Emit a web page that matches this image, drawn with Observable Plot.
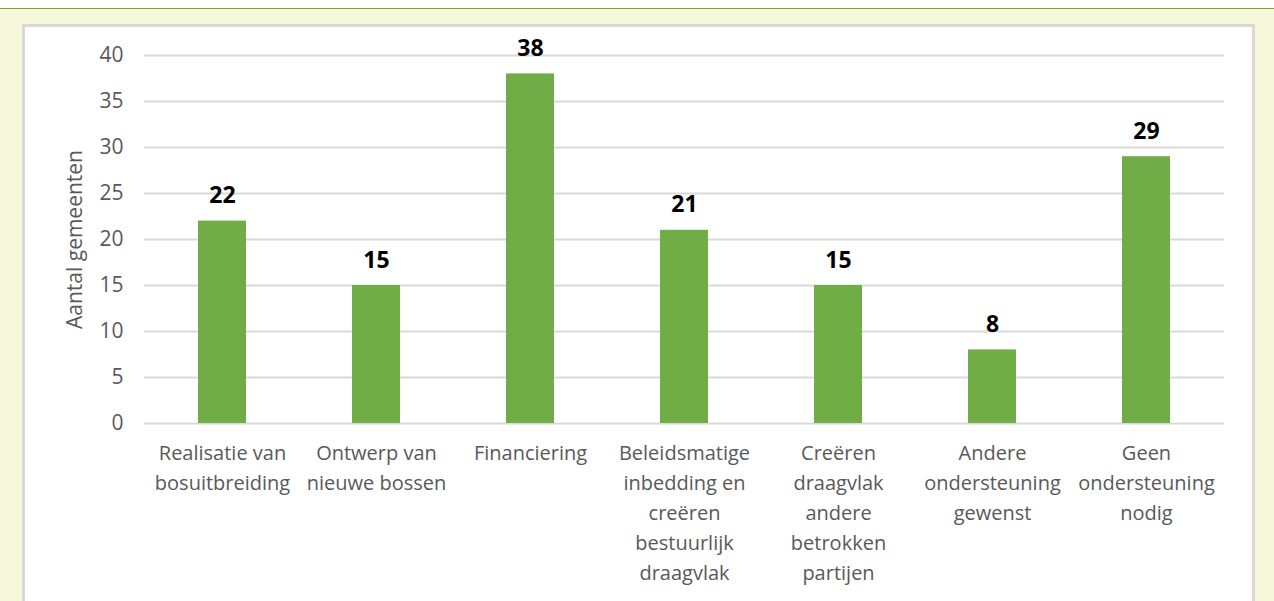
<!DOCTYPE html>
<html>
<head>
<meta charset="utf-8">
<script src="https://cdn.jsdelivr.net/npm/d3@7"></script>
<script src="https://cdn.jsdelivr.net/npm/@observablehq/plot@0.6"></script>
<style>
  html, body { margin: 0; padding: 0; }
  body { width: 1274px; height: 601px; overflow: hidden; position: relative; background: #ffffff; font-family: "Open Sans", sans-serif; }
  #topline { position: absolute; left: 0; top: 8px; width: 1274px; height: 1px; background: #8a9b1e; }
  #bg { position: absolute; left: 0; top: 9px; width: 1274px; height: 592px; background: #f7f7dc; }
  #panel { position: absolute; left: 22px; top: 24px; width: 1233px; height: 620px; background: #ffffff; border: 3px solid #d9d9d9; box-sizing: border-box; }
  #chart { position: absolute; left: 0; top: 0; }
</style>
</head>
<body>
<div id="topline"></div>
<div id="bg"></div>
<div id="panel"></div>
<div id="chart"></div>
<script>
const categories = [
  "Realisatie van bosuitbreiding",
  "Ontwerp van nieuwe bossen",
  "Financiering",
  "Beleidsmatige inbedding en creëren bestuurlijk draagvlak",
  "Creëren draagvlak andere betrokken partijen",
  "Andere ondersteuning gewenst",
  "Geen ondersteuning nodig"
];
const values = [22, 15, 38, 21, 15, 8, 29];
const tickLabels = [
  "Realisatie van\nbosuitbreiding",
  "Ontwerp van\nnieuwe bossen",
  "Financiering",
  "Beleidsmatige\ninbedding en\ncreëren\nbestuurlijk\ndraagvlak",
  "Creëren\ndraagvlak\nandere\nbetrokken\npartijen",
  "Andere\nondersteuning\ngewenst",
  "Geen\nondersteuning\nnodig"
];
const yTicks = [0, 5, 10, 15, 20, 25, 30, 35, 40];
const yLabel = "Aantal gemeenten";

const data = categories.map((c, i) => ({category: c, value: values[i]}));

const chart = Plot.plot({
  width: 1274,
  height: 601,
  marginLeft: 144,
  marginRight: 50,
  marginTop: 55,
  marginBottom: 178,
  style: {background: "transparent", fontFamily: "'Open Sans', sans-serif", color: "#595959"},
  x: {domain: categories, paddingInner: 0.69, paddingOuter: 0.345},
  y: {domain: [0, 40]},
  marks: [
    Plot.gridY(yTicks, {stroke: "#d9d9d9", strokeOpacity: 1, strokeWidth: 2}),
    Plot.barY(data, {x: "category", y: "value", fill: "#70ad47"}),
    Plot.text(data, {x: "category", y: "value", text: d => String(d.value), lineAnchor: "bottom", dy: -18, fontWeight: "bold", fontSize: 23, fill: "#000000"}),
    Plot.axisY({ticks: yTicks, tickSize: 0, tickPadding: 21, fontSize: 21, label: yLabel, labelAnchor: "center", labelOffset: 77, labelArrow: "none"}),
    Plot.axisX({tickSize: 0, tickPadding: 15, fontSize: 20, lineHeight: 1.5, tickFormat: (d) => tickLabels[categories.indexOf(d)], label: null})
  ]
});
document.getElementById("chart").appendChild(chart);
</script>
</body>
</html>
